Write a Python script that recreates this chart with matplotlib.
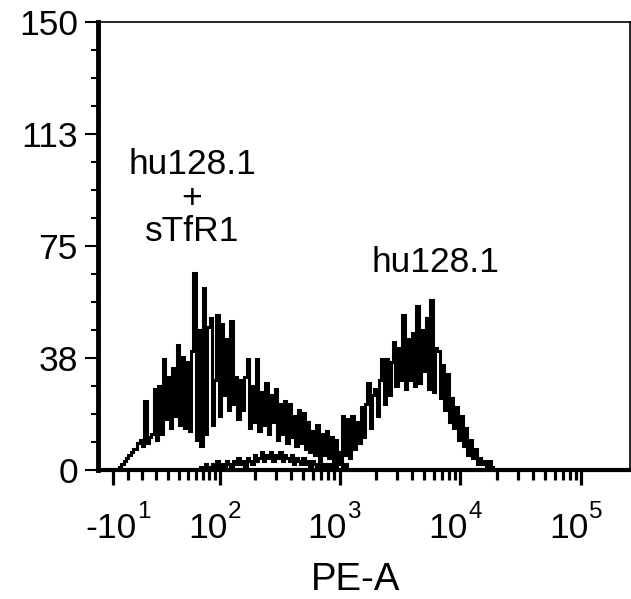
import numpy as np
import matplotlib.pyplot as plt

plt.rcParams['font.family'] = ['Liberation Sans', 'DejaVu Sans']

# counts per channel
# hu128.1 + sTfR1 (starts at channel 8)
counts_blocked = [
    0, 1, 2, 3, 4, 5, 6, 7, 7, 9, 10, 8,
    23, 9, 11, 12, 27, 10, 28, 12, 37, 17,
    31, 14, 34, 18, 42, 15, 38, 14, 36, 13,
    40, 66, 10, 47, 8, 61, 12, 48, 51, 15,
    30, 52, 18, 49, 25, 44, 20, 50, 22, 31,
    17, 30, 20, 31, 37, 14, 28, 16, 37, 13,
    26, 15, 29, 12, 25, 16, 27, 10, 22, 12,
    23, 9, 22, 11, 18, 8, 20, 9, 19, 7,
    16, 6, 13, 5, 15, 4, 12, 5, 13, 4,
    11, 3, 10, 2, 6, 1, 2, 0,
]
start_blocked = 8

# hu128.1 alone (starts at channel 44)
counts_free = [
    1, 0, 2, 1, 0, 2, 1, 3, 1, 2,
    0, 3, 2, 1, 3, 2, 4, 2, 3, 1,
    4, 3, 2, 5, 3, 4, 6, 3, 5, 4,
    6, 3, 5, 4, 6, 3, 5, 4, 3, 5,
    2, 4, 3, 2, 4, 2, 3, 1, 3, 2,
    1, 3, 1, 2, 1, 2, 1, 2, 1, 3, 2,
    18, 5, 17, 4, 18, 7, 16, 9, 21, 11,
    22, 29, 14, 25, 27, 18, 30, 37, 22, 37,
    25, 36, 43, 28, 41, 30, 52, 27, 44, 30,
    46, 28, 55, 29, 47, 33, 51, 27, 57, 26,
    41, 40, 24, 35, 20, 32, 16, 24, 14, 21,
    10, 18, 8, 14, 5, 10, 4, 7, 2, 4,
    2, 3, 1, 3, 1, 0,
]
start_free = 44

x_ticks = [-10, 1e2, 1e3, 1e4, 1e5]
x_bases = ['-10', '10', '10', '10', '10']
x_exps = ['1', '2', '3', '4', '5']
y_ticks = [0, 37.5, 75, 112.5, 150]
y_labels = ['0', '38', '75', '113', '150']

# biexponential-like display scale
W = 35.5
def fwd(x):
    return np.arcsinh(np.asarray(x, dtype=float) / W) / np.log(10)

def inv(t):
    return W * np.sinh(np.asarray(t, dtype=float) * np.log(10))

# channels evenly spaced on the display scale
chan_lo = -0.245
chan_w = 0.0192

def channel_edges(start, n):
    return inv(chan_lo + chan_w * np.arange(start, start + n + 1))

fig = plt.figure(figsize=(6.31, 5.99), dpi=100)
ax = fig.add_axes([98 / 631, 129 / 599, 532 / 631, 448 / 599])
ax.set_xscale('function', functions=(fwd, inv))

ax.stairs(counts_blocked, channel_edges(start_blocked, len(counts_blocked)),
          color='black', lw=2.2, baseline=0)
ax.stairs(counts_free, channel_edges(start_free, len(counts_free)),
          color='black', lw=2.2, baseline=0)

ax.set_xlim(inv(chan_lo), inv(chan_lo + 532 / 121))
ax.set_ylim(0, 150)

ax.set_xticks(x_ticks)
minor = [0] + list(np.arange(10, 100, 10))
for d in [100, 1000, 10000]:
    minor += [d * k for k in range(2, 10)]
ax.set_xticks(minor, minor=True)
ax.set_yticks(y_ticks, y_labels)
ax.set_yticks(np.arange(0, 151, 9.375), minor=True)

ax.tick_params(axis='x', which='major', direction='out', length=11, width=2.3,
               labelbottom=False)
ax.tick_params(axis='x', which='minor', direction='out', length=7, width=2.3)
ax.tick_params(axis='y', which='major', direction='out', length=9.5, width=1.5,
               pad=5, labelsize=25.5)
ax.tick_params(axis='y', which='minor', direction='out', length=5, width=1.5)

# x tick labels with large raised exponents
for i, (v, b, e) in enumerate(zip(x_ticks, x_bases, x_exps)):
    dx = -1.5 if i == 0 else -9
    base = ax.annotate(b, xy=(v, 0), xycoords=('data', 'axes fraction'),
                       xytext=(dx, -30), textcoords='offset points',
                       ha='center', va='top', fontsize=25.5)
    ax.annotate(e, xy=(1, 1), xycoords=base, xytext=(0.5, -4.5),
                textcoords='offset points', ha='left', va='baseline',
                fontsize=17.5)

ax.spines['left'].set_linewidth(3.5)
ax.spines['bottom'].set_linewidth(3)
ax.spines['top'].set_linewidth(1.2)
ax.spines['right'].set_linewidth(1.2)

ax.text(0.1767, 0.607, 'hu128.1\n+\nsTfR1', transform=ax.transAxes,
        ha='center', va='center', fontsize=25.5, linespacing=1.03)
ax.text(0.635, 0.463, 'hu128.1', transform=ax.transAxes,
        ha='center', va='center', fontsize=25.5)

ax.set_xlabel('PE-A', fontsize=27.5)
ax.xaxis.set_label_coords(0.485, -0.206)

fig.savefig('out.png', dpi=100)
